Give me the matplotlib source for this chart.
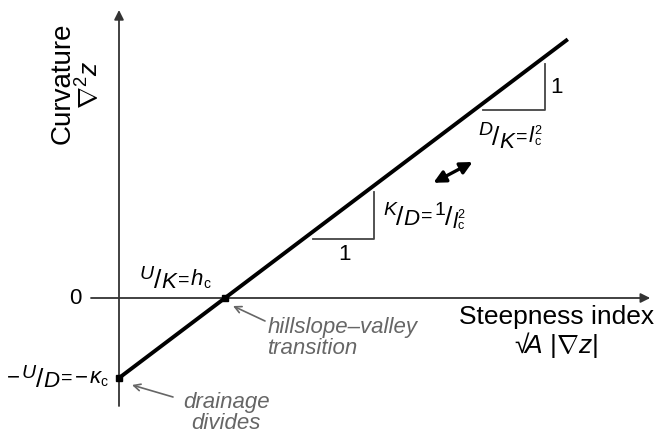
import matplotlib.pyplot as plt
import numpy as np
from matplotlib.transforms import offset_copy

plt.rcParams['font.family'] = ['Liberation Sans', 'DejaVu Sans']
plt.rcParams['mathtext.fontset'] = 'custom'
plt.rcParams['mathtext.rm'] = 'Liberation Sans'
plt.rcParams['mathtext.it'] = 'Liberation Sans:italic'
plt.rcParams['mathtext.sf'] = 'Liberation Sans'

# conceptual curvature vs steepness-index line
kappa_c = 1.0        # curvature intercept (U/D)
h_c = 1.325          # steepness index where curvature = 0 (U/K)
x_end = 5.61         # end of drawn line
x_line = np.array([0.0, x_end])
y_line = -kappa_c + (kappa_c / h_c) * x_line

# marked points: drainage divides, hillslope-valley transition
pt_x = [0.0, h_c]
pt_y = [-kappa_c, 0.0]

fig = plt.figure(figsize=(6.6, 4.35), dpi=100)
ax = fig.add_axes([0, 0, 1, 1])
ax.set_xlim(-119 / 80, (660 - 119) / 80)
ax.set_ylim(-(435 - 299) / 80, 299 / 80)
ax.axis('off')
rend = fig.canvas.get_renderer()


def row(x, y, pieces, ha='left', color='black'):
    # pieces: (text, fontsize, baseline shift px, italic, advance)
    widths = []
    for s, fs, dy, it, adv in pieces:
        t = ax.text(0, 0, s, fontsize=fs, style='italic' if it else 'normal')
        w = t.get_window_extent(rend).width
        if s in ('=', u'\u2212'):
            w += 3
        widths.append(w)
        t.remove()
    total = sum(w for w, p in zip(widths, pieces) if p[4])
    cur = 0 if ha == 'left' else -total
    for (s, fs, dy, it, adv), w in zip(pieces, widths):
        off = 1.5 if s in ('=', u'\u2212') else 0
        tr = offset_copy(ax.transData, fig=fig, x=cur + off, y=dy,
                         units='dots')
        ax.text(x, y, s, fontsize=fs, style='italic' if it else 'normal',
                transform=tr, ha='left', va='baseline', color=color)
        if adv:
            cur += w


axc = '#333333'
# axes with arrows
ax.annotate('', xy=(6.64, 0), xytext=(-0.35, 0),
            arrowprops=dict(arrowstyle='-|>', color=axc, lw=1.3,
                            mutation_scale=14, shrinkA=0, shrinkB=0))
ax.annotate('', xy=(0, 3.60), xytext=(0, -1.35),
            arrowprops=dict(arrowstyle='-|>', color=axc, lw=1.3,
                            mutation_scale=14, shrinkA=0, shrinkB=0))

# main line
ax.plot(x_line, y_line, color='black', lw=2.8, solid_capstyle='butt', zorder=3)
ax.plot(pt_x, pt_y, 's', color='black', ms=5, zorder=4)

# slope triangles
tc = '#444444'
ax.plot([2.425, 3.19, 3.19], [0.7375, 0.7375, 1.325], color=tc, lw=1.3)
ax.plot([4.55, 5.325, 5.325], [2.35, 2.35, 2.925], color=tc, lw=1.3)
ax.text(2.825, 0.55, '1', fontsize=16, ha='center', va='center')
ax.text(5.475, 2.64, '1', fontsize=16, ha='center', va='center')

# double arrow
ax.annotate('', xy=(4.42, 1.70), xytext=(3.93, 1.44),
            arrowprops=dict(arrowstyle='<|-|>', color='black', lw=2.4,
                            mutation_scale=18, shrinkA=0, shrinkB=0))

# relation labels
row(3.30, 0.975, [('K', 14, 6, True, 1), ('/', 19, -4, False, 1),
                  ('D', 16, -4, True, 1), ('=', 14, 0, False, 1),
                  ('1', 14, 6, False, 1), ('/', 19, -4, False, 1),
                  ('l', 16, -7, True, 1), ('c', 9, -8, False, 0),
                  ('2', 9, 3, False, 1)])
row(4.49, 1.9625, [('D', 14, 7, True, 1), ('/', 19, -3, False, 1),
                   ('K', 16, -6, True, 1), ('=', 14, 0, False, 1),
                   ('l', 16, 0, True, 1), ('c', 9, -3, False, 0),
                   ('2', 9, 8, False, 1)])
row(0.2625, 0.175, [('U', 14, 6, True, 1), ('/', 19, -3, False, 1),
                    ('K', 16, -3, True, 1), ('=', 14, 0, False, 1),
                    ('h', 16, 0, True, 1), ('c', 10, -3, False, 1)])
row(-0.14, -1.05, [(u'\u2212', 16, 0, False, 1), ('U', 14, 5, True, 1),
                   ('/', 19, -4, False, 1), ('D', 16, -4, True, 1),
                   ('=', 14, 0, False, 1), (u'\u2212', 16, 0, False, 1),
                   (u'\u03ba', 16, 0, True, 1), ('c', 10, -3, False, 1)],
    ha='right')
ax.text(-0.54, 0.0, '0', fontsize=16, ha='center', va='center')

# axis titles
ax.text(-0.70, 2.70, 'Curvature', fontsize=20, rotation=90,
        ha='center', va='center')
ax.text(-0.375, 2.675, r'$\nabla^2 z$', fontsize=19, rotation=90,
        ha='center', va='center')
ax.text(5.47, -0.22, 'Steepness index', fontsize=19, ha='center', va='center')
ax.text(5.47, -0.58, u'$\u221a\\!A\\ |\\nabla z|$', fontsize=19,
        ha='center', va='center')

# gray callouts
gc = '#666666'
ax.annotate('', xy=(1.425, -0.10), xytext=(1.825, -0.2875),
            arrowprops=dict(arrowstyle='->', color=gc, lw=1.2,
                            mutation_scale=12, shrinkA=0, shrinkB=0))
ax.text(1.86, -0.49, u'hillslope\u2013valley\ntransition', fontsize=16,
        style='italic', color=gc, ha='left', va='center', linespacing=1.0)
ax.annotate('', xy=(0.1625, -1.0875), xytext=(0.675, -1.2375),
            arrowprops=dict(arrowstyle='->', color=gc, lw=1.2,
                            mutation_scale=12, shrinkA=0, shrinkB=0))
ax.text(1.34, -1.425, 'drainage\ndivides', fontsize=16, style='italic',
        color=gc, ha='center', va='center', linespacing=1.0)

fig.savefig('out.png', dpi=100)
